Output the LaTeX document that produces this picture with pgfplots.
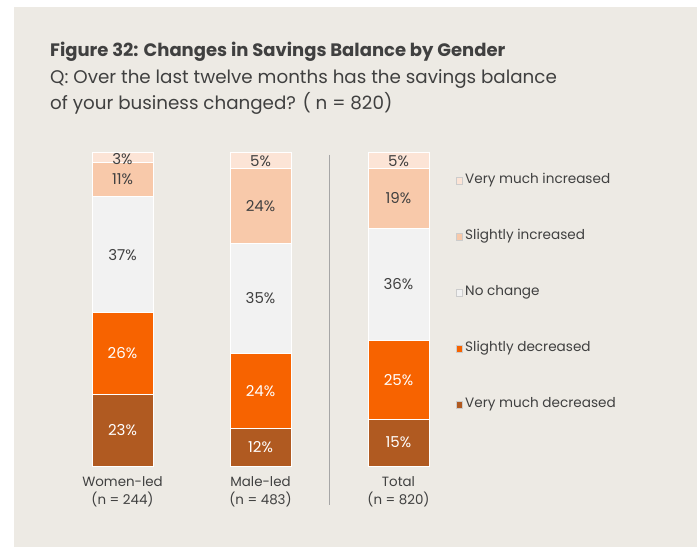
\documentclass[border=0pt]{standalone}
\usepackage{fontspec}
\setmainfont{Poppins}
\usepackage{pgfplots}
\pgfplotsset{compat=1.18}
\definecolor{bg}{RGB}{237,234,228}
\definecolor{vmd}{RGB}{176,90,33}
\definecolor{sd}{RGB}{247,99,0}
\definecolor{nc}{RGB}{242,242,242}
\definecolor{si}{RGB}{248,201,170}
\definecolor{vmi}{RGB}{252,228,214}
\definecolor{txt}{RGB}{64,64,64}
\begin{document}
\begin{tikzpicture}[x=1pt,y=1pt]
\fill[white] (0,0) rectangle (697,547);
\fill[bg] (14,0) rectangle (697,540);
\node[anchor=base west, font=\fontsize{18}{20}\selectfont\bfseries, text=txt, inner sep=0] at (50,490) {Figure 32: Changes in Savings Balance by Gender};
\node[anchor=base west, font=\fontsize{18.3}{20}\selectfont, text=txt, inner sep=0] at (50,463) {Q: Over the last twelve months has the savings balance};
\node[anchor=base west, font=\fontsize{18.3}{20}\selectfont, text=txt, inner sep=0] at (50,437) {of your business changed? ( n = 820)};
\draw[black!35, line width=1pt] (329,392) -- (329,42);
\begin{axis}[at={(53.5pt,81pt)}, anchor=south west, scale only axis, width=414pt, height=313pt,
  xmin=-0.5, xmax=2.5, ymin=0, ymax=100, ybar stacked, bar width=61pt,
  axis line style={draw=none}, ytick=\empty, xtick={0,1,2}, major tick length=0pt,
  xticklabels={{Women-led\\(n = 244)},{Male-led\\(n = 483)},{Total\\(n = 820)}},
  xticklabel style={align=center, font=\fontsize{13.4}{18}\selectfont, text=txt, yshift=-7pt},
  clip=false]
\addplot[fill=vmd, draw=white, line width=1pt] coordinates {(0,23) (1,12) (2,15)};
\addplot[fill=sd, draw=white, line width=1pt] coordinates {(0,26) (1,24) (2,25)};
\addplot[fill=nc, draw=white, line width=1pt] coordinates {(0,37) (1,35) (2,36)};
\addplot[fill=si, draw=white, line width=1pt] coordinates {(0,11) (1,24) (2,19)};
\addplot[fill=vmi, draw=white, line width=1pt] coordinates {(0,3) (1,5) (2,5)};
\end{axis}
\begin{axis}[at={(53.5pt,81pt)}, anchor=south west, scale only axis, width=414pt, height=313pt,
  xmin=-0.5, xmax=2.5, ymin=0, ymax=100, hide axis, clip=false]
\addplot[draw=none, mark=none, nodes near coords={\pgfplotspointmeta}, point meta=explicit symbolic,
  every node near coord/.style={anchor=center, text=white, font=\fontsize{15}{16}\selectfont}]
  coordinates {(0,11.5)[23\%] (0,36)[26\%] (1,6)[12\%] (1,24)[24\%] (2,7.5)[15\%] (2,27.5)[25\%]};
\addplot[draw=none, mark=none, nodes near coords={\pgfplotspointmeta}, point meta=explicit symbolic,
  every node near coord/.style={anchor=center, text=txt, font=\fontsize{15}{16}\selectfont}]
  coordinates {(0,67.5)[37\%] (0,91.5)[11\%] (0,98)[3\%] (1,53.5)[35\%] (1,83)[24\%] (1,97.5)[5\%] (2,58)[36\%] (2,85.5)[19\%] (2,97.5)[5\%]};
\end{axis}
\foreach \c/\t [count=\i from 0] in {vmi/Very much increased, si/Slightly increased, nc/No change, sd/Slightly decreased, vmd/Very much decreased}{
  \filldraw[fill=\c, draw=black!20, line width=0.5pt] (456,547-184+\i*-56) rectangle (462,547-177+\i*-56);
  \node[anchor=base west, inner sep=0, text=txt, font=\fontsize{13.6}{16}\selectfont] at (465,547-184-\i*56) {\t};
}
\end{tikzpicture}
\end{document}
